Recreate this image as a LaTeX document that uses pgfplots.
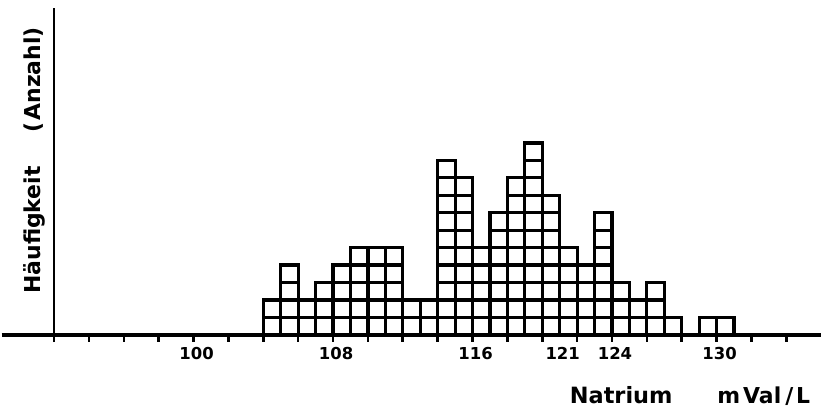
\documentclass[border=0pt]{standalone}
\usepackage{pgfplots}
\pgfplotsset{compat=1.18}
\usepackage{fontspec}
\setmainfont{DejaVu Sans}
\pgfplotsset{sq/.style={ybar, bar width=1, bar shift=0pt, draw=black, fill=none, line width=3.2pt, line join=miter, mark=none}}
\begin{document}
\begin{tikzpicture}
\begin{axis}[
  scale only axis, x=17.5pt, y=17.5pt,
  xmin=89, xmax=136, ymin=0, ymax=19.2,
  axis x line=bottom, axis y line=none,
  x axis line style={-, line width=3.5pt, line cap=butt},
  xtick={92,94,...,134}, xticklabels={},
  tick align=outside, major tick length=7pt,
  xtick style={line width=2.6pt, black},
  extra x ticks={100,108,116,121,124,130},
  extra x tick labels={100,108,116,121,124,130},
  extra x tick style={major tick length=0pt},
  ytick=\empty,
  clip=false,
  /pgf/number format/assume math mode=true,
  tick label style={font=\bfseries\fontsize{16.5}{16.5}\selectfont, inner sep=0pt, anchor=north, yshift=-12pt, xshift=3pt},
]
% unit squares: layer k = bins whose count is at least k (bar from 0 to k)
\addplot[sq] coordinates {(104.5,1) (105.5,1) (106.5,1) (107.5,1) (108.5,1) (109.5,1) (110.5,1) (111.5,1) (112.5,1) (113.5,1) (114.5,1) (115.5,1) (116.5,1) (117.5,1) (118.5,1) (119.5,1) (120.5,1) (121.5,1) (122.5,1) (123.5,1) (124.5,1) (125.5,1) (126.5,1) (127.5,1) (129.5,1) (130.5,1)};
\addplot[sq] coordinates {(104.5,2) (105.5,2) (106.5,2) (107.5,2) (108.5,2) (109.5,2) (110.5,2) (111.5,2) (112.5,2) (113.5,2) (114.5,2) (115.5,2) (116.5,2) (117.5,2) (118.5,2) (119.5,2) (120.5,2) (121.5,2) (122.5,2) (123.5,2) (124.5,2) (125.5,2) (126.5,2)};
\addplot[sq] coordinates {(105.5,3) (107.5,3) (108.5,3) (109.5,3) (110.5,3) (111.5,3) (114.5,3) (115.5,3) (116.5,3) (117.5,3) (118.5,3) (119.5,3) (120.5,3) (121.5,3) (122.5,3) (123.5,3) (124.5,3) (126.5,3)};
\addplot[sq] coordinates {(105.5,4) (108.5,4) (109.5,4) (110.5,4) (111.5,4) (114.5,4) (115.5,4) (116.5,4) (117.5,4) (118.5,4) (119.5,4) (120.5,4) (121.5,4) (122.5,4) (123.5,4)};
\addplot[sq] coordinates {(109.5,5) (110.5,5) (111.5,5) (114.5,5) (115.5,5) (116.5,5) (117.5,5) (118.5,5) (119.5,5) (120.5,5) (121.5,5) (123.5,5)};
\addplot[sq] coordinates {(114.5,6) (115.5,6) (117.5,6) (118.5,6) (119.5,6) (120.5,6) (123.5,6)};
\addplot[sq] coordinates {(114.5,7) (115.5,7) (117.5,7) (118.5,7) (119.5,7) (120.5,7) (123.5,7)};
\addplot[sq] coordinates {(114.5,8) (115.5,8) (118.5,8) (119.5,8) (120.5,8)};
\addplot[sq] coordinates {(114.5,9) (115.5,9) (118.5,9) (119.5,9)};
\addplot[sq] coordinates {(114.5,10) (119.5,10)};
\addplot[sq] coordinates {(119.5,11)};
% y axis line
\draw[line width=2.5pt] (axis cs:92,-0.42) -- (axis cs:92,18.75);
% labels
\node[rotate=90, anchor=base, inner sep=0pt, font=\bfseries\fontsize{22}{22}\selectfont] at (axis cs:91.23,10.0) {Häufigkeit\hspace{34pt}(\kern2pt Anzahl)};
\node[anchor=base west, inner sep=0pt, font=\bfseries\fontsize{22.5}{22}\selectfont] at (axis cs:121.57,-3.94) {Natrium};
\node[anchor=base west, inner sep=0pt, font=\bfseries\fontsize{22}{22}\selectfont] at (axis cs:130.03,-3.94) {m\kern3pt Val\kern4pt/\kern3pt L};
\end{axis}
\path (0,-78pt) rectangle (822.5pt,336pt);
\end{tikzpicture}
\end{document}
